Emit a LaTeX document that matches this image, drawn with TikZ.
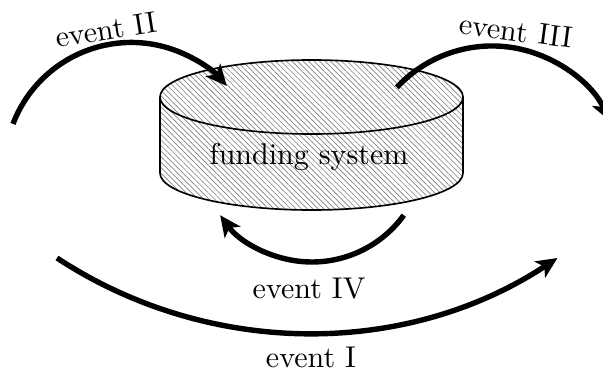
\documentclass[tikz,border=0pt]{standalone}
\usetikzlibrary{arrows.meta,patterns.meta}
\begin{document}
\begin{tikzpicture}[x=0.333pt,y=0.333pt,
  flow/.style={line width=1.8pt,-{Stealth[length=7pt,width=6.4pt,inset=1.8pt]}},
  rim/.style={line width=0.55pt},
  hatch/.style={pattern={Lines[angle=-45,distance=1.3pt,line width=0.22pt]},pattern color=gray},
  lbl/.style={inner sep=1pt}]
\useasboundingbox (0,0) rectangle (603,371);

% hatched cylinder body
\fill[hatch] (160,274) arc[start angle=180,end angle=0,x radius=151.5,y radius=37]
  -- (463,198) arc[start angle=0,end angle=-180,x radius=151.5,y radius=37] -- cycle;
\draw[rim] (311.5,274) ellipse[x radius=151.5,y radius=37];
\draw[rim] (160,274) -- (160,198) arc[start angle=180,end angle=360,x radius=151.5,y radius=37] -- (463,274);
\node[lbl] (fund) at (309,214) {funding system};

% arrow start points
\coordinate (s2) at (13,247.1);
\coordinate (s3) at (396.9,283.7);
\coordinate (s4) at (403.8,155.8);
\coordinate (s1) at (57,113);

% events
\draw[flow] (s2) arc[start angle=159.1,end angle=41,radius=126.6];
\draw[flow] (s3) arc[start angle=137,end angle=25,radius=130];
\draw[flow] (s4) arc[start angle=-36,end angle=-144,radius=113.5];
\draw[flow] (s1) arc[start angle=-123.3,end angle=-56.7,radius=455.8];

% labels
\node[lbl,rotate=9] (l2) at (106,341) {event II};
\node[lbl,rotate=-7.5] (l3) at (516,340) {event III};
\node[lbl] (l4) at (309,82) {event IV};
\node[lbl] (l1) at (311,14) {event I};
\end{tikzpicture}
\end{document}
